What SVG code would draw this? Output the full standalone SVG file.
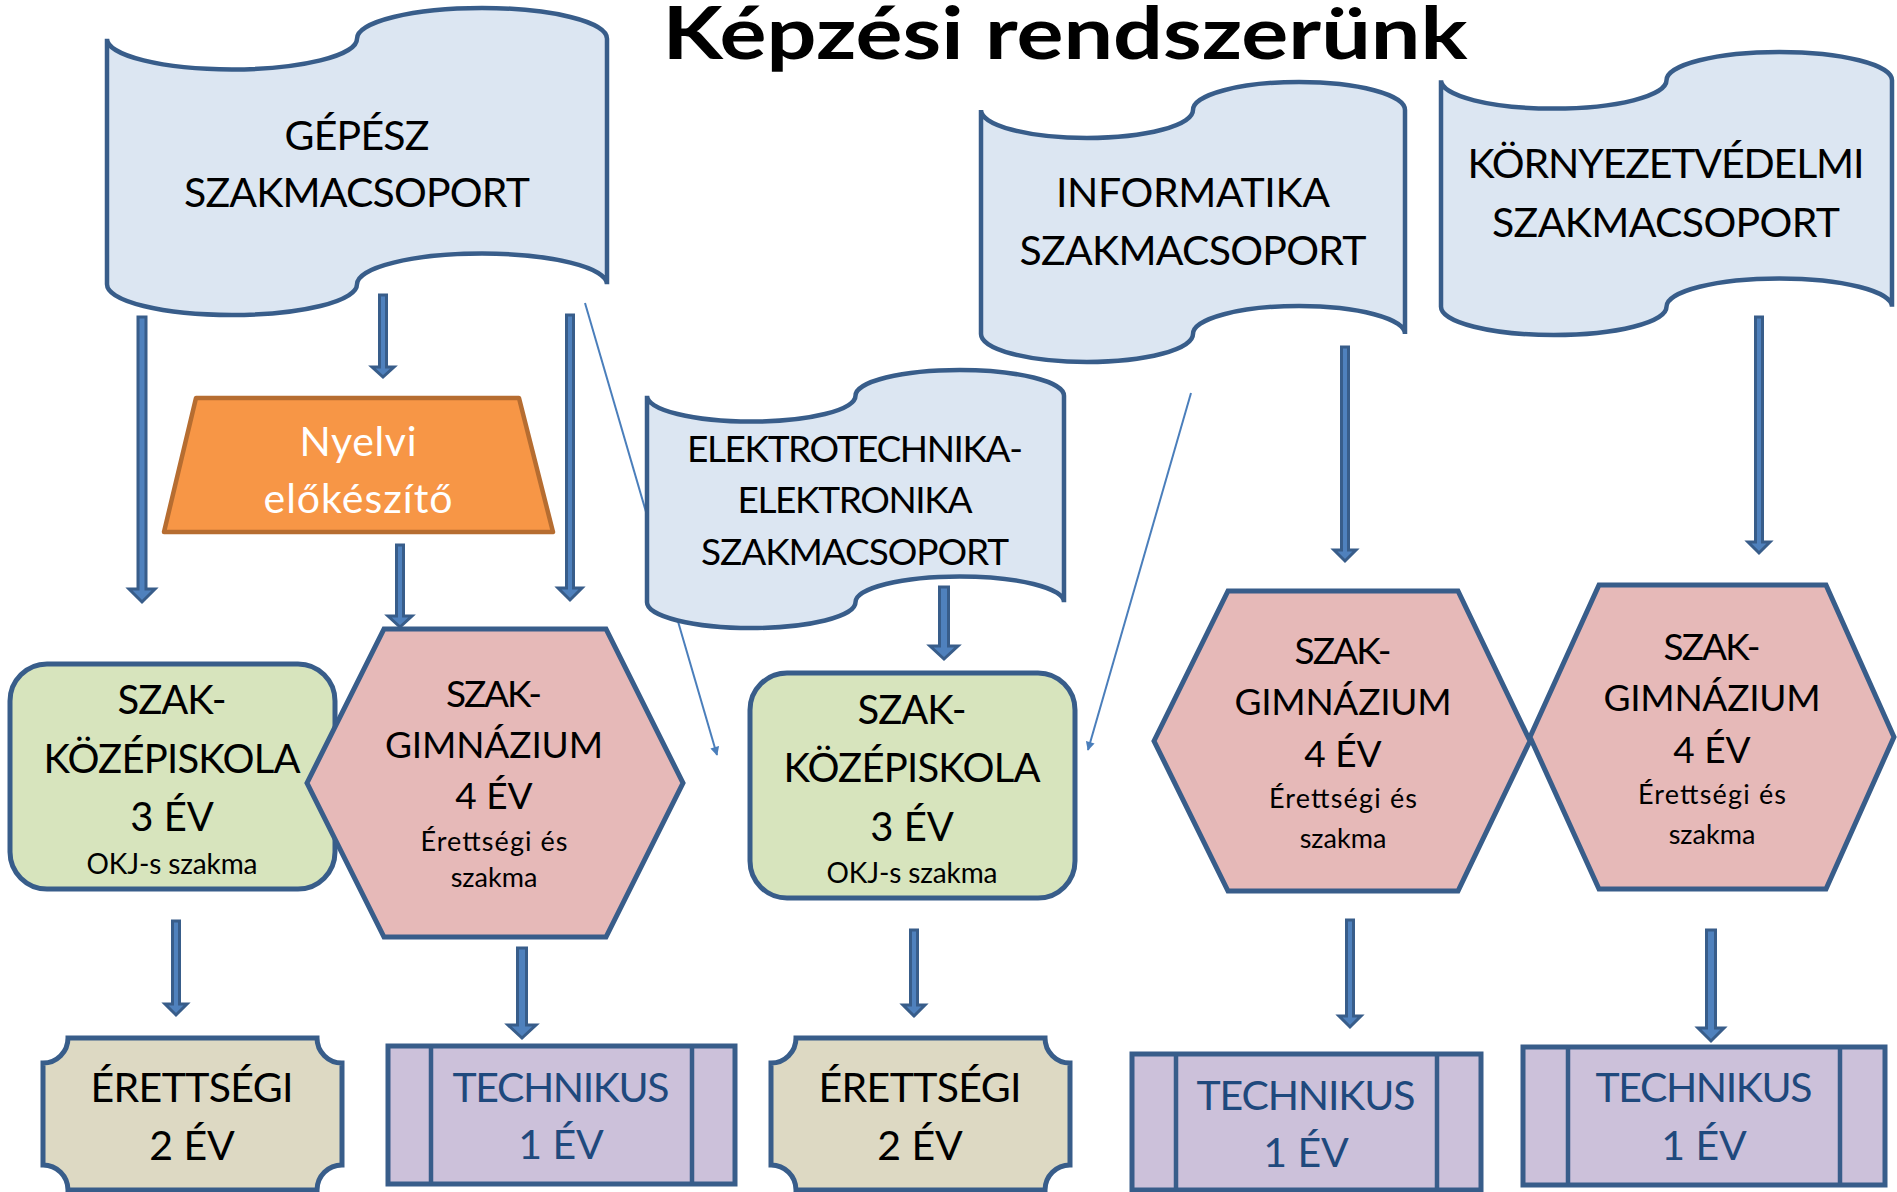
<svg xmlns="http://www.w3.org/2000/svg" width="1897" height="1192" viewBox="0 0 1897 1192">
<defs>
<style>
.flag{fill:#DCE6F2;stroke:#385D8A;stroke-width:4.5}
.hex{fill:#E6B9B8;stroke:#385D8A;stroke-width:5}
.box{fill:#D7E4BD;stroke:#385D8A;stroke-width:5}
.plq{fill:#DDD9C3;stroke:#385D8A;stroke-width:5}
.tech{fill:#CCC1DA;stroke:#385D8A;stroke-width:5}
.techl{stroke:#385D8A;stroke-width:4.5;fill:none}
.trap{fill:#F79646;stroke:#B66D31;stroke-width:4.5;stroke-linejoin:round}
.arr{fill:#4F81BD;stroke:#385D8A;stroke-width:3}
.thin{stroke:#4A7EBB;stroke-width:2;fill:none;marker-end:url(#ah)}
text{font-family:Lato,"Liberation Sans",sans-serif;text-anchor:middle;fill:#000}
.f41{font-size:41px}
.f37{font-size:37px}
.f40{font-size:40px}
.f28{font-size:28px}
.f27{font-size:27px}
.wt{fill:#FFFFFF}
.bl{fill:#1F497D}
.title{font-size:72px;font-weight:bold}
</style>
<marker id="ah" viewBox="0 0 10 10" refX="9" refY="5" markerWidth="10" markerHeight="9" markerUnits="userSpaceOnUse" orient="auto">
<path d="M0,0 L10,5 L0,10 z" fill="#4A7EBB"/>
</marker>
</defs>

<g id="title"><text class="title" x="1065" y="59" textLength="805" lengthAdjust="spacingAndGlyphs">Képzési rendszerünk</text></g>

<g id="connectors">
<line class="thin" x1="585" y1="303" x2="717" y2="755"/>
<line class="thin" x1="1191" y1="393" x2="1088" y2="750"/>
<polygon class="arr" points="138,317 146,317 146,589 155,589 142,602 129,589 138,589"/>
<polygon class="arr" points="379.5,295 386.5,295 386.5,367 394,367 383,377 372,367 379.5,367"/>
<polygon class="arr" points="396.5,545 403.5,545 403.5,616 412,616 400,627 388,616 396.5,616"/>
<polygon class="arr" points="566.5,315 573.5,315 573.5,588 582,588 570,600 558,588 566.5,588"/>
<polygon class="arr" points="939.5,587 948.5,587 948.5,646 958,646 944,659 930,646 939.5,646"/>
<polygon class="arr" points="1341.5,347 1348.5,347 1348.5,550 1356,550 1345,561 1334,550 1341.5,550"/>
<polygon class="arr" points="1755.5,317 1762.5,317 1762.5,542 1770,542 1759,553 1748,542 1755.5,542"/>
<polygon class="arr" points="172.5,921 179.5,921 179.5,1004 187,1004 176,1015 165,1004 172.5,1004"/>
<polygon class="arr" points="517.5,948 526.5,948 526.5,1025 536,1025 522,1038 508,1025 517.5,1025"/>
<polygon class="arr" points="910.5,930 917.5,930 917.5,1005 925,1005 914,1016 903,1005 910.5,1005"/>
<polygon class="arr" points="1346.5,920 1353.5,920 1353.5,1016 1361,1016 1350,1027 1339,1016 1346.5,1016"/>
<polygon class="arr" points="1706.5,930 1715.5,930 1715.5,1028 1724,1028 1711,1041 1698,1028 1706.5,1028"/>
</g>

<g id="gepesz">
<path class="flag" d="M107,38.7 A125,30.7 0 0 0 357,38.7 A125,30.7 0 0 1 607,38.7 L607,284.3 A125,30.7 0 0 0 357,284.3 A125,30.7 0 0 1 107,284.3 Z"/>
<text class="f41" x="357" y="150" textLength="145">GÉPÉSZ</text>
<text class="f41" x="357" y="207" textLength="346">SZAKMACSOPORT</text>
</g>

<g id="informatika">
<path class="flag" d="M981,110 A106,28 0 0 0 1193,110 A106,28 0 0 1 1405,110 L1405,334 A106,28 0 0 0 1193,334 A106,28 0 0 1 981,334 Z"/>
<text class="f41" x="1193" y="207" textLength="274">INFORMATIKA</text>
<text class="f41" x="1193" y="265" textLength="347">SZAKMACSOPORT</text>
</g>

<g id="kornyezet">
<path class="flag" d="M1441,80.3 A112.75,28.3 0 0 0 1666.5,80.3 A112.75,28.3 0 0 1 1892,80.3 L1892,306.7 A112.75,28.3 0 0 0 1666.5,306.7 A112.75,28.3 0 0 1 1441,306.7 Z"/>
<text class="f41" x="1666" y="178" textLength="397">KÖRNYEZETVÉDELMI</text>
<text class="f41" x="1666" y="237" textLength="348">SZAKMACSOPORT</text>
</g>

<g id="elektro">
<path class="flag" d="M647,395.8 A104.25,25.8 0 0 0 855.5,395.8 A104.25,25.8 0 0 1 1064,395.8 L1064,602.2 A104.25,25.8 0 0 0 855.5,602.2 A104.25,25.8 0 0 1 647,602.2 Z"/>
<text class="f37" x="855" y="462" textLength="336">ELEKTROTECHNIKA-</text>
<text class="f37" x="855" y="513" textLength="235">ELEKTRONIKA</text>
<text class="f37" x="855" y="565" textLength="308">SZAKMACSOPORT</text>
</g>

<g id="nyelvi">
<polygon class="trap" points="196,398 519,398 553,532 164,532"/>
<text class="f41 wt" x="358" y="456" textLength="117">Nyelvi</text>
<text class="f41 wt" x="358" y="513" textLength="189">előkészítő</text>
</g>

<g id="szakkozep1">
<rect class="box" x="10" y="664" width="325" height="225" rx="37" ry="37"/>
<text class="f40" x="172" y="714" textLength="109">SZAK-</text>
<text class="f40" x="172" y="773" textLength="257">KÖZÉPISKOLA</text>
<text class="f40" x="172" y="831">3 ÉV</text>
<text class="f28" x="172" y="874" textLength="171">OKJ-s szakma</text>
</g>

<g id="szakgimn1">
<polygon class="hex" points="307,783 384,629 606,629 683,783 606,937 384,937"/>
<text class="f37" x="494" y="707" textLength="96">SZAK-</text>
<text class="f37" x="494" y="758" textLength="218">GIMNÁZIUM</text>
<text class="f37" x="494" y="809">4 ÉV</text>
<text class="f27" x="494" y="851" textLength="147">Érettségi és</text>
<text class="f27" x="494" y="887">szakma</text>
</g>

<g id="szakkozep2">
<rect class="box" x="750" y="673" width="325" height="225" rx="37" ry="37"/>
<text class="f40" x="912" y="724" textLength="109">SZAK-</text>
<text class="f40" x="912" y="782" textLength="257">KÖZÉPISKOLA</text>
<text class="f40" x="912" y="841">3 ÉV</text>
<text class="f28" x="912" y="883" textLength="171">OKJ-s szakma</text>
</g>

<g id="szakgimn2">
<polygon class="hex" points="1154,741 1228,591 1458,591 1530,741 1458,891 1228,891"/>
<text class="f37" x="1343" y="664" textLength="97">SZAK-</text>
<text class="f37" x="1343" y="715" textLength="217">GIMNÁZIUM</text>
<text class="f37" x="1343" y="767">4 ÉV</text>
<text class="f27" x="1343" y="808" textLength="148">Érettségi és</text>
<text class="f27" x="1343" y="848">szakma</text>
</g>

<g id="szakgimn3">
<polygon class="hex" points="1530,737 1599,585 1826,585 1894,737 1826,889 1599,889"/>
<text class="f37" x="1712" y="660" textLength="97">SZAK-</text>
<text class="f37" x="1712" y="711" textLength="217">GIMNÁZIUM</text>
<text class="f37" x="1712" y="763">4 ÉV</text>
<text class="f27" x="1712" y="804" textLength="148">Érettségi és</text>
<text class="f27" x="1712" y="844">szakma</text>
</g>

<g id="erettsegi1">
<path class="plq" d="M68,1038 L317,1038 A25,25 0 0 0 342,1063 L342,1165 A25,25 0 0 0 317,1190 L68,1190 A25,25 0 0 0 43,1165 L43,1063 A25,25 0 0 0 68,1038 Z"/>
<text class="f41" x="192" y="1102" textLength="203">ÉRETTSÉGI</text>
<text class="f41" x="192" y="1160">2 ÉV</text>
</g>

<g id="technikus1">
<rect class="tech" x="388" y="1046" width="347" height="138"/>
<line class="techl" x1="431" y1="1046" x2="431" y2="1184"/>
<line class="techl" x1="692" y1="1046" x2="692" y2="1184"/>
<text class="f41 bl" x="561" y="1102" textLength="217">TECHNIKUS</text>
<text class="f41 bl" x="561" y="1159">1 ÉV</text>
</g>

<g id="erettsegi2">
<path class="plq" d="M796,1038 L1045,1038 A25,25 0 0 0 1070,1063 L1070,1165 A25,25 0 0 0 1045,1190 L796,1190 A25,25 0 0 0 771,1165 L771,1063 A25,25 0 0 0 796,1038 Z"/>
<text class="f41" x="920" y="1102" textLength="203">ÉRETTSÉGI</text>
<text class="f41" x="920" y="1160">2 ÉV</text>
</g>

<g id="technikus2">
<rect class="tech" x="1132" y="1054" width="349" height="136"/>
<line class="techl" x1="1176" y1="1054" x2="1176" y2="1190"/>
<line class="techl" x1="1437" y1="1054" x2="1437" y2="1190"/>
<text class="f41 bl" x="1306" y="1110" textLength="219">TECHNIKUS</text>
<text class="f41 bl" x="1306" y="1167">1 ÉV</text>
</g>

<g id="technikus3">
<rect class="tech" x="1523" y="1047" width="362" height="138"/>
<line class="techl" x1="1568" y1="1047" x2="1568" y2="1185"/>
<line class="techl" x1="1840" y1="1047" x2="1840" y2="1185"/>
<text class="f41 bl" x="1704" y="1102" textLength="217">TECHNIKUS</text>
<text class="f41 bl" x="1704" y="1160">1 ÉV</text>
</g>
</svg>
